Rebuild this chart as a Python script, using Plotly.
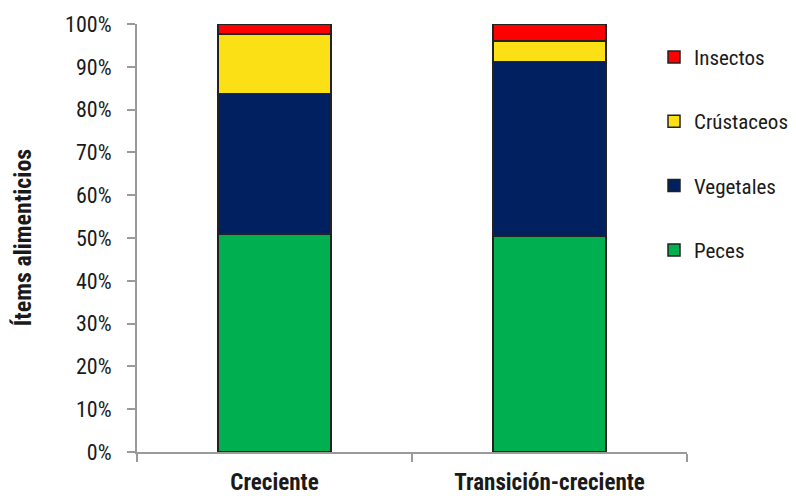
import plotly.graph_objects as go

# Food-item composition by hydrological period (percent of items)
periods = ["Creciente", "Transición-creciente"]
peces = [50.9, 50.3]
vegetales = [32.9, 40.9]
crustaceos = [13.9, 4.8]
insectos = [2.3, 4.0]

series = [
    ("Peces", peces, "#00B050"),
    ("Vegetales", vegetales, "#002060"),
    ("Crústaceos", crustaceos, "#FCE016"),
    ("Insectos", insectos, "#FF0000"),
]

FONT = "Liberation Sans Narrow, Roboto Condensed, Arial Narrow, sans-serif"
INK = "#1a1a1a"
AXIS = "#9a9a9a"

fig = go.Figure()
for i, (name, vals, color) in enumerate(series):
    fig.add_trace(go.Bar(
        name=name,
        x=periods,
        y=vals,
        marker=dict(color=color, line=dict(color="#222222", width=1.5)),
        legendgroup=name,
        legendrank=len(series) - i,  # top stack segment first in the legend
    ))

fig.update_layout(
    barmode="stack",
    bargap=0.59,
    width=796,
    height=496,
    margin=dict(l=137, r=109, t=24, b=44, autoexpand=False),
    plot_bgcolor="white",
    paper_bgcolor="white",
    font=dict(family=FONT, size=22, color=INK),
    showlegend=True,
    legend=dict(
        traceorder="grouped",
        tracegroupgap=34,
        x=0.94, xanchor="left",
        y=0.97, yanchor="top",
        font=dict(family=FONT, size=21, color=INK),
        bgcolor="rgba(0,0,0,0)",
    ),
    xaxis=dict(
        showline=True, linecolor=AXIS, linewidth=2,
        ticks="outside", ticklen=8, tickcolor=AXIS, tickwidth=2,
        tickson="boundaries",
        tickfont=dict(family=FONT, size=23, color=INK, weight="bold"),
        ticklabelstandoff=8,
    ),
    yaxis=dict(
        range=[0, 100],
        tickvals=list(range(0, 101, 10)),
        ticktext=[f"{v}%" for v in range(0, 101, 10)],
        showline=True, linecolor=AXIS, linewidth=2,
        ticks="outside", ticklen=8, tickcolor=AXIS, tickwidth=2,
        showgrid=False, zeroline=False,
        tickfont=dict(family=FONT, size=22, color=INK),
        ticklabelstandoff=11,
    ),
    annotations=[dict(
        text="<b>Ítems alimenticios</b>",
        xref="paper", yref="paper",
        x=-0.207, y=0.5,
        xanchor="center", yanchor="middle",
        textangle=-90, showarrow=False,
        font=dict(family=FONT, size=24, color=INK),
    )],
)

fig.write_html("out.html")
